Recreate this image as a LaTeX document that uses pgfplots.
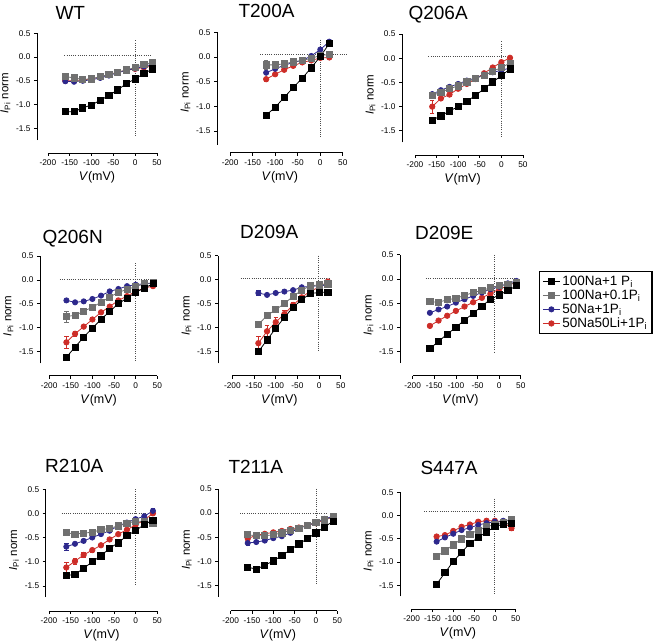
\documentclass[border=0pt]{standalone}
\usepackage{fontspec}
\setmainfont{Liberation Sans}
\usepackage{pgfplots}
\usepackage{pgfplotstable}
\pgfplotsset{compat=1.18}

\definecolor{sgray}{RGB}{112,112,112}
\definecolor{sblue}{RGB}{45,40,140}
\definecolor{sred}{RGB}{205,45,40}

% columns: V, black, gray, blue, red (each with its error)
\pgfplotstableread{
V    bk    bke  gy    gye  bl    ble  rd    rde
-160 -1.15 0    -0.41 0    -0.51 0    -0.50 0
-140 -1.15 0    -0.44 0    -0.52 0    -0.50 0
-120 -1.07 0    -0.47 0    -0.50 0    -0.48 0
-100 -1.01 0    -0.46 0    -0.48 0    -0.46 0
-80  -0.91 0    -0.41 0    -0.44 0    -0.42 0
-60  -0.81 0    -0.37 0    -0.39 0    -0.37 0
-40  -0.69 0    -0.32 0    -0.33 0    -0.32 0
-20  -0.56 0    -0.27 0    -0.28 0    -0.28 0
0    -0.46 0    -0.22 0    -0.24 0    -0.25 0
20   -0.35 0    -0.16 0    -0.20 0    -0.22 0
40   -0.25 0    -0.11 0    -0.15 0    -0.19 0
}\tWT
\pgfplotstableread{
V    bk    bke  gy    gye  bl    ble  rd    rde
-120 -1.18 0    -0.16 0.10 -0.32 0    -0.45 0.04
-100 -1.02 0    -0.16 0.04 -0.24 0    -0.35 0
-80  -0.82 0    -0.14 0    -0.17 0    -0.26 0
-60  -0.62 0    -0.10 0    -0.11 0    -0.18 0
-40  -0.43 0    -0.07 0    -0.07 0    -0.11 0
-20  -0.22 0    -0.03 0    0.02  0    -0.07 0
0    0.01  0    0.03  0    0.15  0    -0.02 0
20   0.27  0    0.05  0    0.31  0    -0.01 0
}\tTtwo
\pgfplotstableread{
V    bk    bke  gy    gye  bl    ble  rd    rde
-160 -1.28 0    -0.77 0.04 -0.74 0    -1.00 0.13
-140 -1.19 0    -0.70 0    -0.66 0    -0.83 0
-120 -1.09 0    -0.63 0    -0.59 0    -0.75 0
-100 -1.00 0    -0.57 0    -0.53 0    -0.63 0
-80  -0.89 0    -0.49 0    -0.46 0    -0.53 0
-60  -0.77 0    -0.42 0    -0.41 0    -0.43 0
-40  -0.63 0    -0.35 0    -0.34 0    -0.31 0
-20  -0.49 0    -0.27 0    -0.29 0    -0.19 0
0    -0.36 0    -0.19 0    -0.25 0    -0.08 0
20   -0.22 0    -0.10 0    -0.20 0    0.01  0
}\tQA
\pgfplotstableread{
V    bk    bke  gy    gye  bl    ble  rd    rde
-160 -1.62 0.03 -0.77 0.12 -0.43 0    -1.31 0.13
-140 -1.41 0    -0.74 0.05 -0.47 0    -1.13 0.05
-120 -1.20 0    -0.66 0    -0.45 0    -0.98 0
-100 -1.01 0    -0.57 0    -0.40 0    -0.83 0
-80  -0.83 0    -0.47 0    -0.33 0    -0.68 0
-60  -0.66 0    -0.36 0    -0.24 0    -0.56 0
-40  -0.50 0    -0.26 0    -0.19 0    -0.43 0
-20  -0.38 0    -0.20 0    -0.13 0    -0.34 0
0    -0.26 0    -0.14 0    -0.10 0    -0.24 0
20   -0.17 0    -0.08 0    -0.08 0    -0.17 0
40   -0.08 0    -0.06 0    -0.07 0    -0.13 0
}\tQN
\pgfplotstableread{
V    bk    bke  gy    gye  bl    ble  rd    rde
-140 -1.51 0.05 -0.94 0.05 -0.28 0.05 -1.33 0.14
-120 -1.26 0    -0.75 0    -0.32 0    -1.08 0.13
-100 -1.02 0    -0.63 0    -0.28 0    -0.89 0.10
-80  -0.79 0    -0.50 0    -0.25 0    -0.72 0.08
-60  -0.58 0    -0.35 0    -0.22 0    -0.53 0.05
-40  -0.42 0    -0.22 0    -0.16 0    -0.37 0
-20  -0.29 0    -0.13 0    -0.14 0    -0.24 0
0    -0.27 0.04 -0.11 0    -0.13 0    -0.16 0
20   -0.26 0.06 -0.09 0    -0.11 0    -0.04 0
}\tDA
\pgfplotstableread{
V    bk    bke  gy    gye  bl    ble  rd    rde
-160 -1.44 0    -0.47 0    -0.70 0    -0.97 0
-140 -1.29 0    -0.48 0    -0.63 0    -0.86 0
-120 -1.14 0    -0.43 0    -0.57 0    -0.76 0
-100 -1.00 0    -0.40 0    -0.49 0    -0.66 0
-80  -0.85 0    -0.34 0    -0.42 0    -0.57 0
-60  -0.71 0    -0.28 0    -0.35 0    -0.48 0
-40  -0.56 0    -0.24 0    -0.28 0    -0.39 0
-20  -0.42 0    -0.18 0    -0.21 0    -0.30 0
0    -0.33 0    -0.14 0    -0.16 0    -0.21 0
20   -0.24 0    -0.11 0    -0.09 0    -0.14 0
40   -0.14 0    -0.07 0    -0.04 0    -0.06 0
}\tDE
\pgfplotstableread{
V    bk    bke  gy    gye  bl    ble  rd    rde
-160 -1.29 0.06 -0.40 0    -0.69 0.07 -1.12 0.10
-140 -1.26 0    -0.43 0    -0.63 0.04 -0.99 0.07
-120 -1.14 0    -0.41 0    -0.57 0.03 -0.86 0.05
-100 -1.00 0    -0.39 0    -0.50 0    -0.76 0.04
-80  -0.88 0    -0.34 0    -0.43 0    -0.66 0
-60  -0.72 0    -0.31 0    -0.36 0    -0.54 0
-40  -0.61 0    -0.26 0    -0.26 0    -0.43 0
-20  -0.46 0    -0.21 0    -0.19 0    -0.34 0
0    -0.36 0    -0.16 0    -0.12 0    -0.24 0
20   -0.23 0.05 -0.17 0    -0.06 0    -0.14 0
40   -0.14 0.05 -0.21 0.05 0.05  0.06 0.00  0
}\tRA
\pgfplotstableread{
V    bk    bke  gy    gye  bl    ble  rd    rde
-160 -1.12 0.07 -0.45 0    -0.62 0.04 -0.53 0
-140 -1.16 0    -0.47 0    -0.60 0    -0.46 0
-120 -1.08 0    -0.47 0    -0.57 0    -0.43 0
-100 -0.99 0    -0.45 0    -0.52 0    -0.40 0
-80  -0.88 0    -0.41 0    -0.48 0    -0.37 0
-60  -0.76 0    -0.36 0    -0.41 0    -0.33 0
-40  -0.64 0    -0.31 0    -0.31 0    -0.30 0
-20  -0.53 0    -0.25 0    -0.26 0    -0.25 0
0    -0.41 0    -0.19 0    -0.19 0    -0.21 0
20   -0.29 0    -0.14 0    -0.12 0    -0.14 0
40   -0.17 0    -0.08 0    -0.07 0    -0.09 0
}\tTA
\pgfplotstableread{
V    bk    bke  gy    gye  bl    ble  rd    rde
-140 -1.48 0    -0.88 0.07 -0.56 0    -0.45 0
-120 -1.23 0    -0.76 0    -0.47 0    -0.42 0
-100 -0.99 0    -0.63 0    -0.39 0    -0.33 0
-80  -0.79 0    -0.50 0    -0.31 0    -0.24 0
-60  -0.60 0    -0.40 0    -0.26 0    -0.19 0
-40  -0.47 0    -0.31 0    -0.20 0    -0.13 0
-20  -0.35 0    -0.24 0    -0.16 0    -0.11 0
0    -0.24 0    -0.19 0    -0.13 0    -0.11 0
20   -0.18 0    -0.14 0    -0.11 0    -0.14 0
40   -0.17 0    -0.08 0.04 -0.09 0    -0.27 0.04
}\tSA

\pgfplotsset{
  ivpanel/.style={
    anchor=south west, clip=false,
    axis x line*=bottom, axis y line*=left, separate axis lines,
    xmax=50, ymax=0.5,
    xtick={-200,-150,-100,-50,0,50},
    xticklabels={-200,-150,-100,-50,0,50},
    ytick={-1.5,-1,-0.5,0,0.5},
    yticklabels={-1.5,-1.0,-0.5,0.0,0.5},
    tick align=outside, major tick length=3pt,
    tick style={black, line width=0.7pt},
    axis line style={line width=0.7pt},
    ticklabel style={font=\fontsize{8.3}{9}\selectfont},
    xlabel={\textit{V}(mV)},
    ylabel={\textit{I}\textsubscript{Pi} norm},
    xlabel style={font=\fontsize{12.5}{13}\selectfont, yshift=1pt},
    ylabel style={font=\fontsize{11.5}{12}\selectfont, yshift=-1pt},
  },
  errs/.style={error bars/y dir=both, error bars/y explicit,
    error bars/error bar style={line width=0.6pt},
    error bars/error mark options={rotate=90, mark size=2.2pt, line width=0.6pt}},
  bkser/.style={black, line width=0.8pt, mark=square*, mark size=3.1pt, errs},
  gyser/.style={sgray, line width=0.8pt, mark=square*, mark size=3.1pt, errs},
  blser/.style={sblue, line width=0.8pt, mark=*, mark size=2.6pt, errs},
  rdser/.style={sred, line width=0.8pt, mark=*, mark size=2.7pt, errs},
  zline/.style={black!70, line width=1pt, dash pattern=on 1pt off 1.2pt, forget plot},
}

\newcommand{\series}[1]{%
  \addplot[rdser] table[x=V, y=rd, y error=rde] {#1};
  \addplot[blser] table[x=V, y=bl, y error=ble] {#1};
  \addplot[gyser] table[x=V, y=gy, y error=gye] {#1};
  \addplot[bkser] table[x=V, y=bk, y error=bke] {#1};
}

\begin{document}
\begin{tikzpicture}
\useasboundingbox (0,0) rectangle (655pt,640pt);

% row 1
\begin{axis}[ivpanel, at={(37pt,487pt)}, x=0.436pt, y=47.5pt, xmin=-225, ymin=-2.02,
  x axis line style={shorten <=10.9pt}, y axis line style={shorten <=12.8pt}]
\addplot[zline] coordinates {(-162,0.03) (38,0.03)};
\addplot[zline] coordinates {(0,0.35) (0,-1.68)};
\series{\tWT}
\end{axis}
\node[anchor=base west, font=\fontsize{19}{20}\selectfont] at (52pt,620.7pt) {WT};

\begin{axis}[ivpanel, at={(217pt,487.3pt)}, x=0.451pt, y=49.35pt, xmin=-229, ymin=-1.94,
  x axis line style={shorten <=13.1pt}, y axis line style={shorten <=7.9pt}]
\addplot[zline] coordinates {(-133,0.05) (59,0.05)};
\addplot[zline] coordinates {(0,0.35) (0,-1.62)};
\series{\tTtwo}
\end{axis}
\node[anchor=base west, font=\fontsize{19}{20}\selectfont] at (235pt,622.3pt) {T200A};

\begin{axis}[ivpanel, at={(402pt,485pt)}, x=0.432pt, y=48.35pt, xmin=-230, ymin=-2.0,
  x axis line style={shorten <=13pt}, y axis line style={shorten <=12.6pt}]
\addplot[zline] coordinates {(-169,0.03) (22,0.03)};
\addplot[zline] coordinates {(0,0.35) (0,-1.63)};
\series{\tQA}
\end{axis}
\node[anchor=base west, font=\fontsize{19}{20}\selectfont] at (405pt,620pt) {Q206A};

% row 2
\begin{axis}[ivpanel, at={(40pt,264.3pt)}, x=0.433pt, y=47.65pt, xmin=-221, ymin=-2.01,
  x axis line style={shorten <=9.1pt}, y axis line style={shorten <=12.4pt}]
\addplot[zline] coordinates {(-175,0) (41,0)};
\addplot[zline] coordinates {(0,0.35) (0,-1.69)};
\series{\tQN}
\end{axis}
\node[anchor=base west, font=\fontsize{19}{20}\selectfont] at (39pt,396.7pt) {Q206N};

\begin{axis}[ivpanel, at={(218pt,264.3pt)}, x=0.434pt, y=47.8pt, xmin=-233, ymin=-2.01,
  x axis line style={shorten <=14.3pt}, y axis line style={shorten <=12.4pt}]
\addplot[zline] coordinates {(-181,0.03) (25,0.03)};
\addplot[zline] coordinates {(-1,0.5) (-1,-1.51)};
\series{\tDA}
\end{axis}
\node[anchor=base west, font=\fontsize{19}{20}\selectfont] at (236.7pt,401.7pt) {D209A};

\begin{axis}[ivpanel, at={(400pt,264.3pt)}, x=0.433pt, y=48.35pt, xmin=-229, ymin=-2.0,
  x axis line style={shorten <=12.6pt}, y axis line style={shorten <=12.6pt},
  reverse legend,
  legend style={at={(1.149,0.867)}, anchor=north west, draw=black, line width=1.3pt,
    font=\fontsize{13.5}{14}\selectfont, inner xsep=3pt, inner ysep=2.5pt, row sep=-1pt},
  legend cell align=left]
\addplot[zline] coordinates {(-169,0) (36,0)};
\addplot[zline] coordinates {(-11.5,0.5) (-11.5,-1.51)};
\addplot[rdser] table[x=V, y=rd, y error=rde] {\tDE};
\addlegendentry{50Na50Li+1P\textsubscript{i}}
\addplot[blser] table[x=V, y=bl, y error=ble] {\tDE};
\addlegendentry{50Na+1P\textsubscript{i}}
\addplot[gyser] table[x=V, y=gy, y error=gye] {\tDE};
\addlegendentry{100Na+0.1P\textsubscript{i}}
\addplot[bkser] table[x=V, y=bk, y error=bke] {\tDE};
\addlegendentry{100Na+1 P\textsubscript{i}}
\end{axis}
\node[anchor=base west, font=\fontsize{19}{20}\selectfont] at (411.7pt,400pt) {D209E};

% row 3
\begin{axis}[ivpanel, at={(45.7pt,29pt)}, x=0.433pt, y=48.35pt, xmin=-207.6, ymin=-2.02,
  x axis line style={shorten <=3.3pt}, y axis line style={shorten <=14pt}]
\addplot[zline] coordinates {(-171,0) (25,0)};
\addplot[zline] coordinates {(0,0.5) (0,-1.5)};
\series{\tRA}
\end{axis}
\node[anchor=base west, font=\fontsize{19}{20}\selectfont] at (41.7pt,167.7pt) {R210A};

\begin{axis}[ivpanel, at={(218.3pt,29.3pt)}, x=0.4264pt, y=48.35pt, xmin=-229, ymin=-2.02,
  x axis line style={shorten <=12.4pt}, y axis line style={shorten <=14pt}]
\addplot[zline] coordinates {(-178,0) (25,0)};
\addplot[zline] coordinates {(2,0.5) (2,-1.5)};
\series{\tTA}
\end{axis}
\node[anchor=base west, font=\fontsize{19}{20}\selectfont] at (225pt,166.7pt) {T211A};

\begin{axis}[ivpanel, at={(400pt,30.7pt)}, x=0.416pt, y=46.35pt, xmin=-228, ymin=-2.02,
  x axis line style={shorten <=11.6pt}, y axis line style={shorten <=13pt}]
\addplot[zline] coordinates {(-170,0.1) (36,0.1)};
\addplot[zline] coordinates {(-1,0.37) (-1,-1.71)};
\series{\tSA}
\end{axis}
\node[anchor=base west, font=\fontsize{19}{20}\selectfont] at (417pt,166pt) {S447A};
\end{tikzpicture}
\end{document}
